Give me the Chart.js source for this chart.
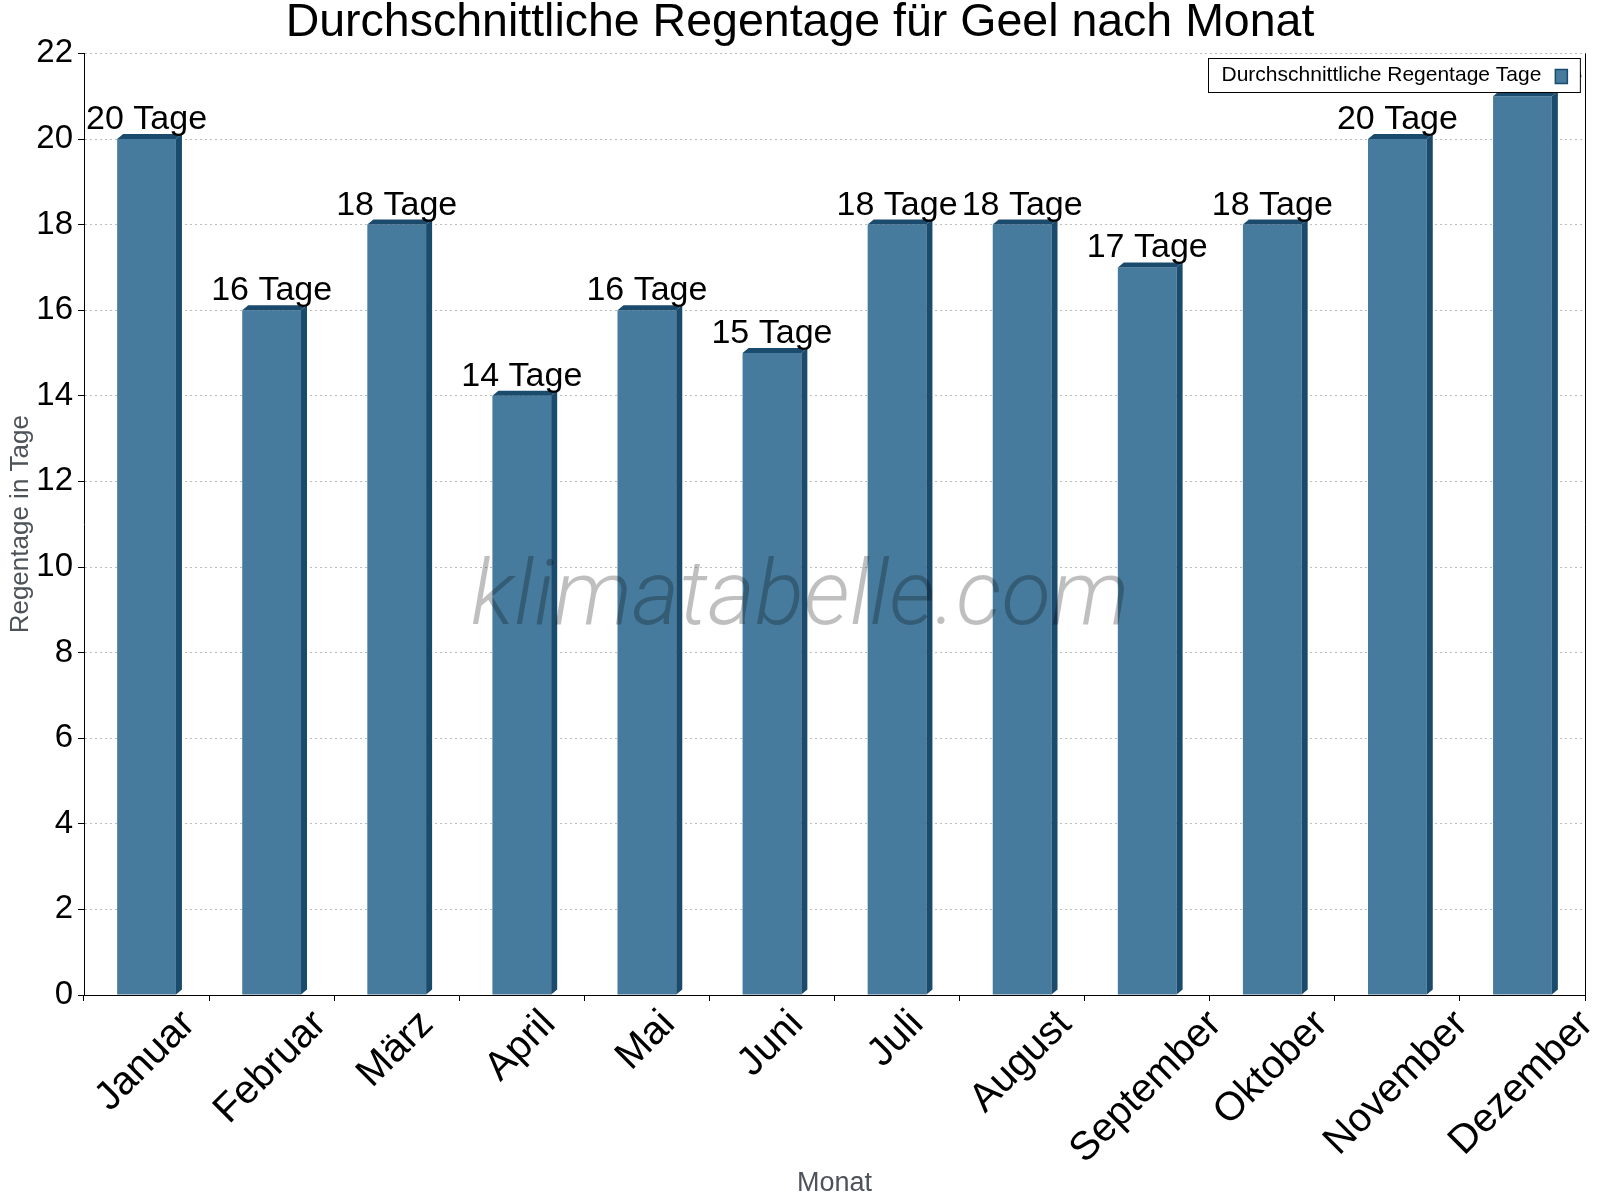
<!DOCTYPE html>
<html lang="de">
<head>
    <meta charset="UTF-8">
    <title>Durchschnittliche Regentage für Geel</title>
    <style>
        body { margin: 0; background: #ffffff; }
        #wrap { width: 1600px; height: 1200px; }
    </style>
    <script src="https://cdn.jsdelivr.net/npm/chart.js"></script>
</head>
<body>
<div id="wrap"><canvas id="regenChart" width="1600" height="1200"></canvas></div>

<script>
    // Daten
    const monate = ['Januar', 'Februar', 'März', 'April', 'Mai', 'Juni', 'Juli', 'August', 'September', 'Oktober', 'November', 'Dezember'];
    const regentage = [20, 16, 18, 14, 16, 15, 18, 18, 17, 18, 20, 21];
    const yTicks = [0, 2, 4, 6, 8, 10, 12, 14, 16, 18, 20, 22];
    const reihenName = 'Durchschnittliche Regentage Tage';
    const einheit = 'Tage';

    const SCHRIFT = '"Liberation Sans", Arial, sans-serif';
    const VORNE = '#467b9d';
    const SEITE = '#1a4a6c';
    const TIEFE_X = 6, TIEFE_Y = 5;

    Chart.defaults.font.family = SCHRIFT;

    // Seiten- und Deckflaeche der Saeulen + Werte ueber den Saeulen
    const quader = {
        id: 'quader',
        afterDatasetsDraw(chart) {
            const ctx = chart.ctx;
            const meta = chart.getDatasetMeta(0);
            ctx.save();
            ctx.fillStyle = SEITE;
            meta.data.forEach(bar => {
                const { x, y, base, width } = bar.getProps(['x', 'y', 'base', 'width'], true);
                const l = x - width / 2, r = x + width / 2;
                ctx.beginPath();
                ctx.moveTo(r, y);
                ctx.lineTo(r + TIEFE_X, y - TIEFE_Y);
                ctx.lineTo(r + TIEFE_X, base - TIEFE_Y);
                ctx.lineTo(r, base);
                ctx.closePath();
                ctx.fill();
                ctx.beginPath();
                ctx.moveTo(l, y);
                ctx.lineTo(l + TIEFE_X, y - TIEFE_Y);
                ctx.lineTo(r + TIEFE_X, y - TIEFE_Y);
                ctx.lineTo(r, y);
                ctx.closePath();
                ctx.fill();
            });
            ctx.fillStyle = '#000';
            ctx.font = '34px ' + SCHRIFT;
            ctx.textAlign = 'center';
            ctx.textBaseline = 'alphabetic';
            meta.data.forEach((bar, i) => {
                ctx.fillText(regentage[i] + ' ' + einheit, bar.x, bar.y - 10);
            });
            ctx.restore();
        }
    };

    // gedrehte Monatsnamen mittig unter die Kategorie schieben
    const labelMitte = {
        id: 'labelMitte',
        beforeDraw(chart) {
            const ctx = chart.ctx;
            ctx.save();
            chart.scales.x.getLabelItems().forEach(it => {
                if (it._verschoben) return;
                ctx.font = it.font.string;
                const w = ctx.measureText(it.label).width;
                it.options.translation[0] += 0.354 * w - 1;
                it._verschoben = true;
            });
            ctx.restore();
        }
    };

    // rechter Rahmen, Wasserzeichen, Legende
    const extras = {
        id: 'extras',
        afterDraw(chart) {
            const ctx = chart.ctx;
            const a = chart.chartArea;
            ctx.save();
            ctx.strokeStyle = '#000';
            ctx.lineWidth = 1;
            ctx.beginPath();
            ctx.moveTo(Math.round(a.right) + 0.5, a.top);
            ctx.lineTo(Math.round(a.right) + 0.5, a.bottom);
            ctx.stroke();

            ctx.font = 'italic 300 91px Roboto';
            ctx.fillStyle = 'rgba(0, 0, 0, 0.25)';
            ctx.textAlign = 'center';
            ctx.textBaseline = 'alphabetic';
            ctx.fillText('klimatabelle.com', chart.width / 2, 624);

            // Legende
            ctx.font = '21px ' + SCHRIFT;
            const tw = ctx.measureText(reihenName).width;
            const bw = 13 + tw + 14 + 13 + 12;
            const bx = Math.round(a.right - 5 - bw) + 0.5;
            const by = Math.round(a.top + 5) + 0.5;
            ctx.fillStyle = '#fff';
            ctx.fillRect(bx, by, bw, 34);
            ctx.strokeStyle = '#000';
            ctx.strokeRect(bx, by, bw, 34);
            ctx.fillStyle = '#000';
            ctx.textAlign = 'left';
            ctx.textBaseline = 'middle';
            ctx.fillText(reihenName, bx + 13, by + 17);
            ctx.fillStyle = VORNE;
            ctx.fillRect(bx + 13 + tw + 14, by + 11, 12, 14);
            ctx.strokeStyle = SEITE;
            ctx.lineWidth = 1.5;
            ctx.strokeRect(bx + 13 + tw + 14, by + 11, 12, 14);
            ctx.restore();
        }
    };

    new Chart(document.getElementById('regenChart'), {
        type: 'bar',
        data: {
            labels: monate,
            datasets: [{
                label: reihenName,
                data: regentage,
                backgroundColor: VORNE,
                borderWidth: 0,
                categoryPercentage: 1,
                barPercentage: 0.47
            }]
        },
        options: {
            responsive: false,
            animation: false,
            layout: { padding: { left: 15, right: 15, top: 0, bottom: 0 } },
            plugins: {
                legend: { display: false },
                tooltip: { enabled: false },
                title: {
                    display: true,
                    text: 'Durchschnittliche Regentage für Geel nach Monat',
                    color: '#000',
                    font: { size: 46.5, weight: 'normal', lineHeight: 1 },
                    padding: { top: 0, bottom: 6.9 }
                }
            },
            scales: {
                x: {
                    grid: { display: true, drawOnChartArea: false, drawTicks: true, tickLength: 6, color: '#000', offset: true },
                    border: { display: true, color: '#000', width: 1 },
                    ticks: { color: '#000', font: { size: 40 }, minRotation: 45, maxRotation: 45, padding: 0, autoSkip: false },
                    title: { display: true, text: 'Monat', color: '#4d5358', font: { size: 27 }, padding: { top: 0, bottom: 0 } },
                    afterFit: s => { s.height = 205; }
                },
                y: {
                    min: 0,
                    max: 22,
                    afterBuildTicks: s => { s.ticks = yTicks.map(v => ({ value: v })); },
                    grid: { color: '#bdbdbd', tickColor: '#000', tickLength: 6 },
                    border: { display: true, color: '#000', width: 1, dash: [2, 3] },
                    ticks: { color: '#000', font: { size: 33 }, padding: 5 },
                    title: { display: true, text: 'Regentage in Tage', color: '#4d5358', font: { size: 26 }, padding: { top: -9.6, bottom: 0 } },
                    afterFit: s => { s.width = 69; }
                }
            }
        },
        plugins: [labelMitte, quader, extras]
    });
</script>
</body>
</html>
